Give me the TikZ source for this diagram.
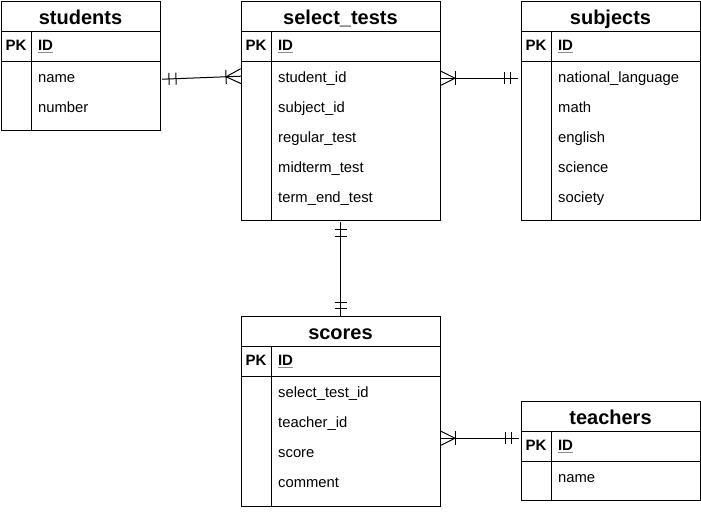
\documentclass[tikz,border=0pt]{standalone}
\usepackage{fontspec}
\setmainfont{Liberation Sans}
\usetikzlibrary{positioning, calc, decorations.markings}

\newcommand{\pkid}{\rlap{\color{black!45}\underline{\phantom{ID}}}ID}

\tikzset{
  tbl/.style={draw, line width=1pt, inner sep=0pt, outer sep=0pt, anchor=north west},
  tbltitle/.style={tbl, minimum height=30pt, text height=18pt, text depth=2pt, font=\bfseries\fontsize{20}{24}\selectfont},
  pkcell/.style={tbl, minimum width=30pt, minimum height=30pt, text height=10pt, text depth=1pt, font=\bfseries\fontsize{15}{18}\selectfont},
  keycell/.style={tbl, minimum height=30pt, inner xsep=7pt, text width=#1, align=left, text height=10pt, text depth=1pt, font=\bfseries\fontsize{15}{18}\selectfont},
  field/.style={anchor=north west, inner sep=0pt, minimum height=30pt, text height=11pt, text depth=1pt, font=\fontsize{14.8}{18}\selectfont},
  conn/.style={line width=1pt},
  bar/.style={line width=1pt},
  one start/.style={postaction={decorate, decoration={markings,
    mark=at position 7pt with {\draw[bar] (0,-6pt) -- (0,6pt);},
    mark=at position 14pt with {\draw[bar] (0,-6pt) -- (0,6pt);}}}},
  one end/.style={postaction={decorate, decoration={markings,
    mark=at position -14pt with {\draw[bar] (0,-6pt) -- (0,6pt);},
    mark=at position -8pt with {\draw[bar] (0,-6pt) -- (0,6pt);}}}},
  many start/.style={postaction={decorate, decoration={markings,
    mark=at position 14pt with {\draw[bar] (0,-7pt) -- (0,7pt);
      \draw[bar] (-14pt,7pt) -- (0,0) -- (-14pt,-7pt);}}}},
  many end/.style={postaction={decorate, decoration={markings,
    mark=at position -15pt with {\draw[bar] (0,-7pt) -- (0,7pt);
      \draw[bar] (15pt,7.5pt) -- (0,0) -- (15pt,-7.5pt);}}}},
}

\begin{document}
\begin{tikzpicture}[x=1pt, y=-1pt]
    \useasboundingbox (0,0) rectangle (701,512);

    % students
    \node[tbltitle, minimum width=159pt] (students) at (1,1) {students};
    \node[pkcell] (students-pk) at (students.south west) {PK};
    \node[keycell=115pt] (students-id) at (students-pk.north east) {\pkid};
    \node[tbl, minimum width=30pt, minimum height=69pt] (students-side) at (students-pk.south west) {};
    \node[tbl, minimum width=129pt, minimum height=69pt] (students-body) at (students-id.south west) {};
    \foreach \f [count=\i] in {name, number}
        \node[field] (students-\i) at ($(students-body.north west)+(7,30*\i-29)$) {\f};

    % select_tests
    \node[tbltitle, minimum width=199pt] (tests) at (241,1) {select\_tests};
    \node[pkcell] (tests-pk) at (tests.south west) {PK};
    \node[keycell=155pt] (tests-id) at (tests-pk.north east) {\pkid};
    \node[tbl, minimum width=30pt, minimum height=159pt] (tests-side) at (tests-pk.south west) {};
    \node[tbl, minimum width=169pt, minimum height=159pt] (tests-body) at (tests-id.south west) {};
    \foreach \f [count=\i] in {student\_id, subject\_id, regular\_test, midterm\_test, term\_end\_test}
        \node[field] (tests-\i) at ($(tests-body.north west)+(7,30*\i-29)$) {\f};

    % subjects
    \node[tbltitle, minimum width=179pt] (subjects) at (521,1) {subjects};
    \node[pkcell] (subjects-pk) at (subjects.south west) {PK};
    \node[keycell=135pt] (subjects-id) at (subjects-pk.north east) {\pkid};
    \node[tbl, minimum width=30pt, minimum height=159pt] (subjects-side) at (subjects-pk.south west) {};
    \node[tbl, minimum width=149pt, minimum height=159pt] (subjects-body) at (subjects-id.south west) {};
    \foreach \f [count=\i] in {national\_language, math, english, science, society}
        \node[field] (subjects-\i) at ($(subjects-body.north west)+(7,30*\i-29)$) {\f};

    % scores
    \node[tbltitle, minimum width=199pt] (scores) at (241,316) {scores};
    \node[pkcell] (scores-pk) at (scores.south west) {PK};
    \node[keycell=155pt] (scores-id) at (scores-pk.north east) {\pkid};
    \node[tbl, minimum width=30pt, minimum height=130pt] (scores-side) at (scores-pk.south west) {};
    \node[tbl, minimum width=169pt, minimum height=130pt] (scores-body) at (scores-id.south west) {};
    \foreach \f [count=\i] in {select\_test\_id, teacher\_id, score, comment}
        \node[field] (scores-\i) at ($(scores-body.north west)+(7,30*\i-29)$) {\f};

    % teachers
    \node[tbltitle, minimum width=179pt] (teachers) at (521,401) {teachers};
    \node[pkcell] (teachers-pk) at (teachers.south west) {PK};
    \node[keycell=135pt] (teachers-id) at (teachers-pk.north east) {\pkid};
    \node[tbl, minimum width=30pt, minimum height=39pt] (teachers-side) at (teachers-pk.south west) {};
    \node[tbl, minimum width=149pt, minimum height=39pt] (teachers-body) at (teachers-id.south west) {};
    \node[field] (teachers-1) at ($(teachers-body.north west)+(7,1)$) {name};

    % relations
    \draw[conn, one start, many end] ($(students-1 -| students.east)+(2,2)$) -- ($(tests-1 -| tests.west)+(0,-1)$);
    \draw[conn, many start, one end] ($(tests-1 -| tests.east)+(1,1)$) -- ($(subjects-1 -| subjects.west)+(-3,1)$);
    \draw[conn, one start, one end] ($(tests.center |- tests-body.south)+(0,2)$) -- (scores.north);
    \coordinate (score-mid) at ($(scores-2)!.5!(scores-3)$);
    \draw[conn, many start, one end] ($(score-mid -| scores.east)+(1,1)$) -- ($(score-mid -| teachers.west)+(-2,1)$);
\end{tikzpicture}
\end{document}
